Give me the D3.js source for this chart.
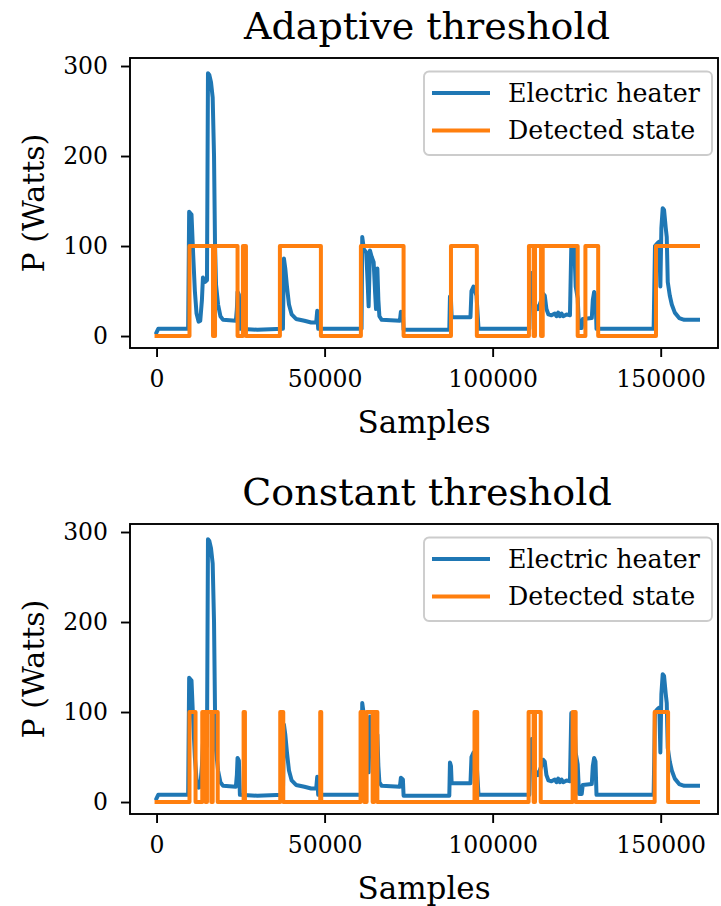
<!DOCTYPE html>
<html>
<head>
<meta charset="utf-8">
<script src="https://cdnjs.cloudflare.com/ajax/libs/d3/7.8.5/d3.min.js"></script>
<style>
  html, body { margin: 0; padding: 0; background: #fff; }
  svg { display: block; font-family: "DejaVu Serif", serif; }
</style>
</head>
<body>
<svg id="chart" width="721" height="906"></svg>
<script>
// electric heater power, [sample, watts]
const heaterPoints = [
  [0, 4], [500, 8], [9400, 8], [9700, 138], [10400, 135], [10900, 90], [11400, 50], [11900, 25],
  [12500, 16], [13000, 17], [13500, 40], [13800, 65], [14400, 60], [15000, 62], [15300, 292],
  [15700, 290], [16200, 282], [16700, 265], [17100, 200], [17400, 100], [17700, 57], [18300, 35],
  [19000, 22], [19800, 18], [23600, 17], [23900, 30], [24100, 49], [24500, 46], [24800, 8],
  [30000, 7], [37600, 8], [37900, 86], [38300, 75], [38800, 55], [39400, 35], [40200, 24],
  [41500, 19], [44000, 17], [46000, 15], [47500, 15], [47800, 28], [48100, 8], [55000, 8],
  [61000, 8], [61200, 110], [61700, 96], [62400, 93], [62800, 60], [63100, 33], [63500, 95],
  [64000, 88], [64600, 82], [65000, 50], [65300, 30], [65700, 75], [66000, 40], [66300, 22],
  [67000, 18], [72400, 17], [72700, 27], [73300, 25], [73500, 7], [87100, 7], [87300, 44],
  [87600, 40], [87800, 21], [93400, 21], [93700, 50], [94300, 55], [95200, 45], [95800, 8],
  [110900, 8], [111200, 50], [111600, 70], [112100, 65], [112600, 35], [113500, 30], [114500, 40],
  [115000, 47], [115500, 45], [116000, 30], [116600, 24], [117500, 23], [118500, 25], [119000, 22],
  [119500, 26], [120000, 22], [120500, 25], [121000, 22], [122000, 24], [123000, 23], [123400, 99],
  [124300, 99], [124700, 55], [125300, 42], [125700, 9], [126500, 9], [126800, 19], [129500, 20],
  [129800, 40], [130200, 49], [130600, 45], [130900, 8], [147900, 8], [148300, 100], [149000, 103],
  [149600, 105], [149900, 55], [150200, 120], [150600, 142], [151000, 140], [151500, 120],
  [151800, 110], [152100, 60], [152700, 45], [153300, 35], [154200, 26], [155500, 20],
  [157000, 18], [161100, 18]
];

// detected "on" intervals, [start sample, end sample]
const adaptiveOn = [
  [9800, 16800], [17400, 24100], [25700, 26600], [36700, 48900], [60800, 73500],
  [87600, 95300], [110800, 112200], [112600, 114400], [114900, 125300], [127600, 131400],
  [148600, 161100]
];
const constantOn = [
  [9800, 11600], [13600, 14600], [15000, 16300], [16700, 18200], [25900, 26300],
  [36800, 37700], [48700, 49000], [60700, 61800], [62500, 64300], [64700, 65700],
  [94600, 95400], [110700, 112200], [112600, 114300], [123800, 124700], [148200, 152200]
];
const onLevel = 100;
const lastSample = 161100;

const xTicks = [0, 50000, 100000, 150000];
const yTicks = [0, 100, 200, 300];
const seriesNames = ["Electric heater", "Detected state"];
const colors = ["#1f77b4", "#ff7f0e"];

const svg = d3.select("#chart");
const left = 130, right = 718, plotH = 290;
const lw = 4.0;

const x = d3.scaleLinear().domain([-7900, 167050]).range([left, right]);

function stateSteps(intervals) {
  const pts = [[0, 0]];
  intervals.forEach(([a, b]) => {
    pts.push([a, 0], [a, onLevel], [b, onLevel]);
    if (b < lastSample) pts.push([b, 0]);
  });
  if (pts[pts.length - 1][0] < lastSample) pts.push([lastSample, 0]);
  return pts;
}

function drawPanel(top, title, intervals) {
  const y = d3.scaleLinear().domain([-13.3, 308.9]).range([top + plotH, top]);
  const g = svg.append("g");

  const line = d3.line().x(d => x(d[0])).y(d => y(d[1]));

  g.append("path")
    .datum(heaterPoints)
    .attr("d", line)
    .attr("fill", "none")
    .attr("stroke", colors[0])
    .attr("stroke-width", lw)
    .attr("stroke-linejoin", "round")
    .attr("stroke-linecap", "square");

  g.append("path")
    .datum(stateSteps(intervals))
    .attr("d", line)
    .attr("fill", "none")
    .attr("stroke", colors[1])
    .attr("stroke-width", lw)
    .attr("stroke-linejoin", "round")
    .attr("stroke-linecap", "square");

  // axes
  const xAxis = g.append("g")
    .attr("transform", `translate(0,${top + plotH})`)
    .call(d3.axisBottom(x).tickValues(xTicks).tickFormat(d3.format("d")).tickSize(9).tickPadding(13));
  const yAxis = g.append("g")
    .attr("transform", `translate(${left},0)`)
    .call(d3.axisLeft(y).tickValues(yTicks).tickSize(9).tickPadding(13));

  [xAxis, yAxis].forEach(a => {
    a.select(".domain").remove();
    a.selectAll(".tick line").attr("stroke", "#000").attr("stroke-width", 1.9);
    a.selectAll(".tick text")
      .attr("fill", "#000")
      .style("font-size", "23.5px")
      .style("font-family", "DejaVu Serif");
  });

  // frame
  g.append("rect")
    .attr("x", left).attr("y", top)
    .attr("width", right - left).attr("height", plotH)
    .attr("fill", "none").attr("stroke", "#000").attr("stroke-width", 1.9);

  // title and labels
  g.append("text")
    .attr("x", (left + right) / 2 + 3).attr("y", top - 19)
    .attr("text-anchor", "middle")
    .style("font-size", "38px")
    .text(title);

  g.append("text")
    .attr("x", (left + right) / 2).attr("y", top + plotH + 85)
    .attr("text-anchor", "middle")
    .style("font-size", "31px")
    .text("Samples");

  g.append("text")
    .attr("transform", `translate(44,${top + plotH / 2}) rotate(-90)`)
    .attr("text-anchor", "middle")
    .style("font-size", "30px")
    .text("P (Watts)");

  // legend
  const lg = g.append("g").attr("transform", `translate(424,${top + 13.5})`);
  lg.append("rect")
    .attr("width", 288).attr("height", 83.5)
    .attr("rx", 5).attr("ry", 5)
    .attr("fill", "#fff").attr("fill-opacity", 0.8)
    .attr("stroke", "#cccccc").attr("stroke-width", 1.9);
  seriesNames.forEach((name, i) => {
    const ly = 21.5 + i * 37.5;
    lg.append("line")
      .attr("x1", 10).attr("x2", 64)
      .attr("y1", ly).attr("y2", ly)
      .attr("stroke", colors[i]).attr("stroke-width", lw)
      .attr("stroke-linecap", "square");
    lg.append("text")
      .attr("x", 84).attr("y", ly)
      .attr("dominant-baseline", "central")
      .style("font-size", "25.3px")
      .text(name);
  });
}

drawPanel(58, "Adaptive threshold", adaptiveOn);
drawPanel(524, "Constant threshold", constantOn);
</script>
</body>
</html>
